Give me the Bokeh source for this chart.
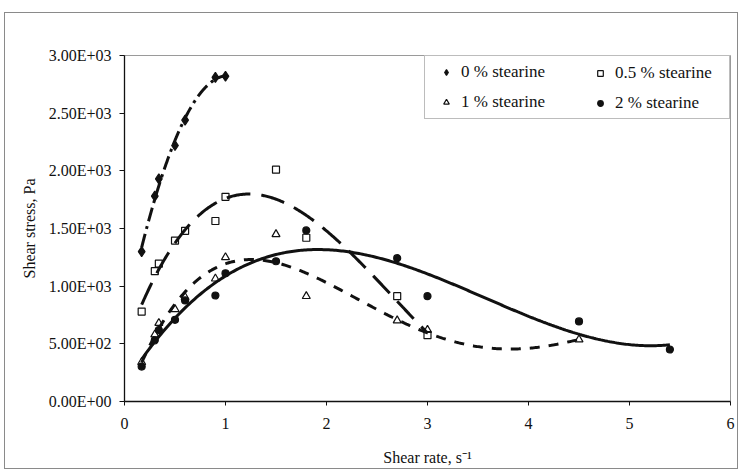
import numpy as np
from bokeh.plotting import figure
from bokeh.models import Range1d, FixedTicker, CustomJSTickFormatter, Legend, LegendItem
from bokeh.embed import file_html
from bokeh.resources import INLINE

# ---- data ----
shear_rate = [0.17, 0.3, 0.34, 0.5, 0.6, 0.9, 1.0, 1.5, 1.8, 2.7, 3.0, 4.5, 5.4]
stress_0pct = [1300, 1780, 1930, 2220, 2440, 2810, 2820]
stress_05pct = [780, 1130, 1195, 1395, 1480, 1565, 1775, 2010, 1420, 913, 575]
stress_1pct = [341, 580, 680, 800, 905, 1065, 1250, 1450, 913, 702, 620, 537]
stress_2pct = [303, 530, 620, 708, 876, 919, 1112, 1216, 1483, 1243, 913, 694, 451]
series_labels = ["0 % stearine", "0.5 % stearine", "1 % stearine", "2 % stearine"]
trend_order = [2, 4, 4, 3]
x_ticks = [0, 1, 2, 3, 4, 5, 6]
y_ticks = [0, 500, 1000, 1500, 2000, 2500, 3000]
x_title = "Shear rate, s\u207b\u00b9"
y_title = "Shear stress, Pa"

FONT = "Liberation Serif"
INK = "#111111"

p = figure(width=734, height=457, x_range=Range1d(0, 6), y_range=Range1d(0, 3000),
           output_backend="svg", toolbar_location=None,
           min_border_left=119, min_border_right=9, min_border_top=42, min_border_bottom=69,
           margin=(12, 0, 0, 4))
p.styles = {"border": "1px solid #8a8a8a"}
p.background_fill_color = "white"
p.border_fill_color = "white"
p.outline_line_color = "#9a9a9a"
p.outline_line_width = 1
p.xgrid.visible = False
p.ygrid.visible = False

markers = ["diamond", "square", "triangle", "circle"]
fills = [INK, None, None, INK]
sizes = [10, 7, 8, 7]
dashes = ["14 5 3 5", "24 11", "10 9", "solid"]
all_series = [stress_0pct, stress_05pct, stress_1pct, stress_2pct]

renderers = []
for ys, mk, fill, sz, dash, order in zip(all_series, markers, fills, sizes, dashes, trend_order):
    xs = shear_rate[:len(ys)]
    r = p.scatter(xs, ys, marker=mk, size=sz, fill_color=fill, line_color=INK, line_width=1.2)
    renderers.append(r)
    coef = np.polyfit(xs, ys, order)
    xf = np.linspace(xs[0], xs[-1], 300)
    p.line(xf, np.polyval(coef, xf), line_color=INK, line_width=3, line_dash=dash)

# axes
p.xaxis.ticker = FixedTicker(ticks=x_ticks)
p.yaxis.ticker = FixedTicker(ticks=y_ticks)
p.yaxis.formatter = CustomJSTickFormatter(code="""
    var s = tick.toExponential(2).toUpperCase();
    var parts = s.split('E');
    var e = parseInt(parts[1]);
    var a = Math.abs(e);
    return parts[0] + 'E' + (e < 0 ? '-' : '+') + (a < 10 ? '0' : '') + a;
""")
p.xaxis.axis_label = x_title
p.yaxis.axis_label = y_title
for ax in (p.xaxis[0], p.yaxis[0]):
    ax.axis_line_color = INK
    ax.axis_line_width = 1.3
    ax.major_tick_line_color = INK
    ax.major_tick_line_width = 1
    ax.minor_tick_line_color = None
    ax.major_tick_in = 0
    ax.major_label_text_font = FONT
    ax.major_label_text_font_size = "16px"
    ax.major_label_text_color = INK
    ax.axis_label_text_font = FONT
    ax.axis_label_text_font_size = "16px"
    ax.axis_label_text_font_style = "normal"
    ax.axis_label_text_color = INK
p.xaxis.major_tick_out = 4
p.yaxis.major_tick_out = 5
p.xaxis.major_label_standoff = 12
p.yaxis.major_label_standoff = 8
p.xaxis.axis_label_standoff = 17
p.yaxis.axis_label_standoff = 8

# legend: two legends sharing one box (left column draws the box)
common = dict(orientation="vertical", padding=6, spacing=10, margin=0,
              glyph_width=30, glyph_height=14, label_standoff=0, label_height=18,
              label_text_font=FONT, label_text_font_size="17px", label_text_color=INK)
leg_left = Legend(items=[LegendItem(label=series_labels[0], renderers=[renderers[0]]),
                         LegendItem(label=series_labels[2], renderers=[renderers[2]])],
                  location=(300, 282), label_width=262,
                  border_line_color="#7a7a7a", border_line_width=1,
                  background_fill_color="white", background_fill_alpha=1.0, **common)
leg_right = Legend(items=[LegendItem(label=series_labels[1], renderers=[renderers[1]]),
                          LegendItem(label=series_labels[3], renderers=[renderers[3]])],
                   location=(461, 288),
                   border_line_color=None, background_fill_alpha=0.0, **common)
p.add_layout(leg_left)
p.add_layout(leg_right)

open("out.html", "w").write(file_html(p, INLINE))
